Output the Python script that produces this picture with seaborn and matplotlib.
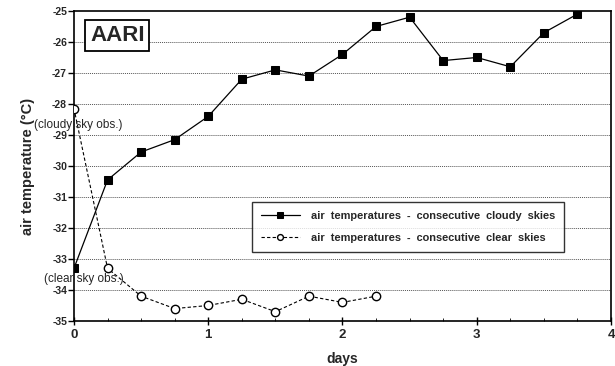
import matplotlib
matplotlib.use("Agg")
import matplotlib.pyplot as plt
import seaborn as sns
import pandas as pd
from matplotlib.ticker import MultipleLocator

days_cloudy = [0, 0.25, 0.5, 0.75, 1, 1.25, 1.5, 1.75, 2, 2.25, 2.5, 2.75, 3, 3.25, 3.5, 3.75]
temp_cloudy = [-33.3, -30.45, -29.55, -29.15, -28.4, -27.2, -26.9, -27.1, -26.4, -25.5, -25.2,
               -26.6, -26.5, -26.8, -25.7, -25.1]
days_clear = [0, 0.25, 0.5, 0.75, 1, 1.25, 1.5, 1.75, 2, 2.25]
temp_clear = [-28.15, -33.3, -34.2, -34.6, -34.5, -34.3, -34.7, -34.2, -34.4, -34.2]
label_cloudy = "air  temperatures  -  consecutive  cloudy  skies"
label_clear = "air  temperatures  -  consecutive  clear  skies"
yticks = [-25, -26, -27, -28, -29, -30, -31, -32, -33, -34, -35]
xticks = [0, 1, 2, 3, 4]

sns.set_theme(style="white")
plt.rcParams['font.family'] = ['Liberation Sans', 'DejaVu Sans']

df_cloudy = pd.DataFrame({"days": days_cloudy, "temp": temp_cloudy})
df_clear = pd.DataFrame({"days": days_clear, "temp": temp_clear})

fig = plt.figure(figsize=(6.15, 3.66), dpi=100)
ax = fig.add_axes([0.1203, 0.123, 0.8732, 0.847])

for y in yticks[1:-1]:
    ax.axhline(y, color="#555555", lw=0.7, ls=(0, (1, 1)), zorder=0)

sns.lineplot(data=df_cloudy, x="days", y="temp", ax=ax, color="black", lw=0.9,
             marker="s", markersize=6, markerfacecolor="black", markeredgecolor="black",
             label=label_cloudy, zorder=3)
sns.lineplot(data=df_clear, x="days", y="temp", ax=ax, color="black", lw=0.8,
             linestyle=(0, (3, 2)), marker="o", markersize=6, markerfacecolor="white",
             markeredgecolor="black", markeredgewidth=1.0, label=label_clear, zorder=3)

ax.set_xlim(0, 4)
ax.set_ylim(-35, -25)
ax.set_xticks(xticks)
ax.set_xticklabels([str(v) for v in xticks], fontweight="bold", fontsize=9.5)
ax.set_yticks(yticks)
ax.set_yticklabels([f"-{abs(v)}" for v in yticks], fontweight="bold", fontsize=7.5)
ax.xaxis.set_minor_locator(MultipleLocator(0.25))
ax.tick_params(axis="x", which="major", direction="inout", length=6, width=1, pad=3, color="black")
ax.tick_params(axis="x", which="minor", direction="in", length=2, width=0.6, color="black")
ax.tick_params(axis="y", which="major", direction="out", length=4, width=1, pad=1, color="black")
ax.tick_params(left=True, bottom=True, which="both")

for s in ax.spines.values():
    s.set_color("black")
    s.set_linewidth(1.2)

ax.set_xlabel("days", fontweight="bold", fontsize=10, labelpad=8)
ax.set_ylabel("air temperature (°C)", fontweight="bold", fontsize=10.5, labelpad=12)

ax.text(0.12, -25.78, "AARI", fontsize=16, fontweight="bold", ha="left", va="center",
        bbox=dict(boxstyle="square,pad=0.22", fc="white", ec="black", lw=1.3), zorder=5)
ax.text(0.035, -28.68, "(cloudy sky obs.)", fontsize=8.5, ha="center", va="center", zorder=4,
        clip_on=False)
ax.text(0.07, -33.65, "(clear sky obs.)", fontsize=8.5, ha="center", va="center", zorder=4,
        clip_on=False)

leg = ax.legend(loc="upper left", bbox_to_anchor=(0.322, 0.40), frameon=True, fancybox=False,
                edgecolor="black", handlelength=3.6, borderpad=0.75, handletextpad=1.0,
                labelspacing=1.15, markerscale=0.7, prop={"weight": "bold", "size": 7.9})
leg.get_frame().set_linewidth(1.0)
leg.set_zorder(6)

fig.savefig("out.png", dpi=100)
